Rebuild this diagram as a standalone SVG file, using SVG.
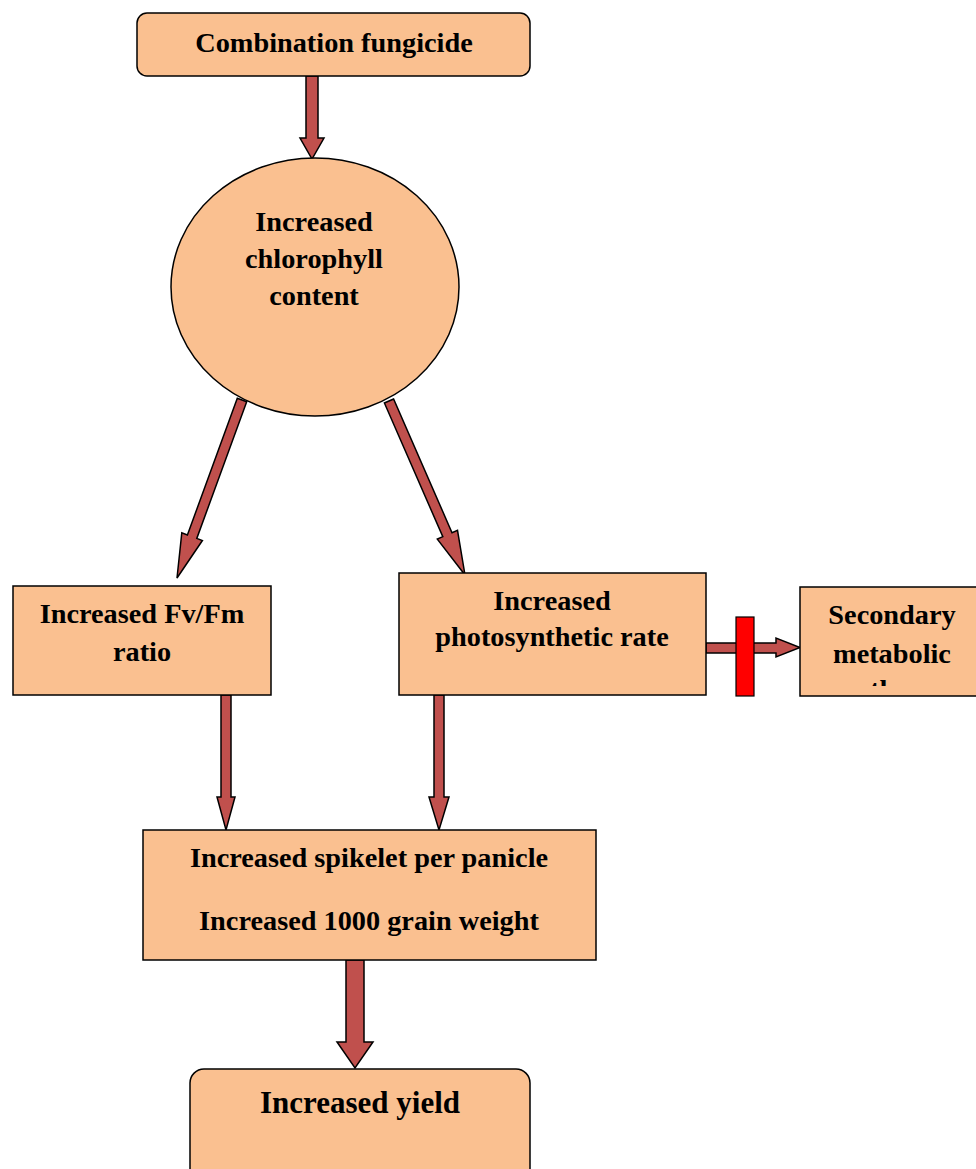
<svg xmlns="http://www.w3.org/2000/svg" width="976" height="1169" viewBox="0 0 976 1169">
<style>
.box{fill:#FAC090;stroke:#000;stroke-width:1.5}
.arr{fill:#C0504D;stroke:#000;stroke-width:1.5;stroke-linejoin:miter}
.t{font-family:"Liberation Serif","Times New Roman",serif;font-weight:bold;font-size:28.3px;fill:#000;text-anchor:middle}
</style>
<defs>
<clipPath id="clipSec"><rect x="800" y="587" width="176" height="99"/></clipPath>
</defs>
<rect width="976" height="1169" fill="#fff"/>
<g id="connectors">
<polygon class="arr" points="306,76 318,76 318,138 324,138 312,159 300,138 306,138"/>
<polygon class="arr" points="246.7,401.7 237.3,398.3 187.4,535 181.8,532.9 177,578 202.4,540.5 196.8,538.4"/>
<polygon class="arr" points="393.6,399 384.4,403 442.8,536.7 437.3,539.1 465,575 457.5,530.3 452,532.7"/>
<polygon class="arr" points="221,695 231,695 231,797 235,797 226,830 217,797 221,797"/>
<polygon class="arr" points="434,695 444,695 444,797 449,797 439,830 429,797 434,797"/>
<polygon class="arr" points="706,643 776,643 776,638 800,647.5 776,657 776,653 706,653"/>
<rect x="736" y="617" width="18" height="79" fill="#FF0000" stroke="#000" stroke-width="1.2"/>
<polygon class="arr" points="346,960 364,960 364,1042 373,1042 355,1068 337,1042 346,1042"/>
</g>
<g id="n-combination">
<rect class="box" x="137" y="13" width="393" height="63" rx="10"/>
<text class="t" x="334" y="52">Combination fungicide</text>
</g>
<g id="n-chlorophyll">
<ellipse class="box" cx="315" cy="287" rx="144" ry="129"/>
<text class="t" x="314" y="231">Increased</text>
<text class="t" x="314" y="268">chlorophyll</text>
<text class="t" x="314" y="305">content</text>
</g>
<g id="n-fvfm">
<rect class="box" x="13" y="586" width="258" height="109"/>
<text class="t" x="142" y="623">Increased Fv/Fm</text>
<text class="t" x="142" y="661">ratio</text>
</g>
<g id="n-photo">
<rect class="box" x="399" y="573" width="307" height="122"/>
<text class="t" x="552" y="610">Increased</text>
<text class="t" x="552" y="646">photosynthetic rate</text>
</g>
<g id="n-secondary">
<rect class="box" x="800" y="587" width="200" height="109"/>
<text class="t" x="892" y="624">Secondary</text>
<text class="t" x="892" y="663">metabolic</text>
<text class="t" x="892" y="699" clip-path="url(#clipSec)">pathway</text>
</g>
<g id="n-spikelet">
<rect class="box" x="143" y="830" width="453" height="130"/>
<text class="t" x="369" y="867">Increased spikelet per panicle</text>
<text class="t" x="369" y="930">Increased 1000 grain weight</text>
</g>
<g id="n-yield">
<rect class="box" x="190" y="1069" width="340" height="120" rx="14"/>
<text class="t" x="360" y="1113" style="font-size:31px">Increased yield</text>
</g>
</svg>
